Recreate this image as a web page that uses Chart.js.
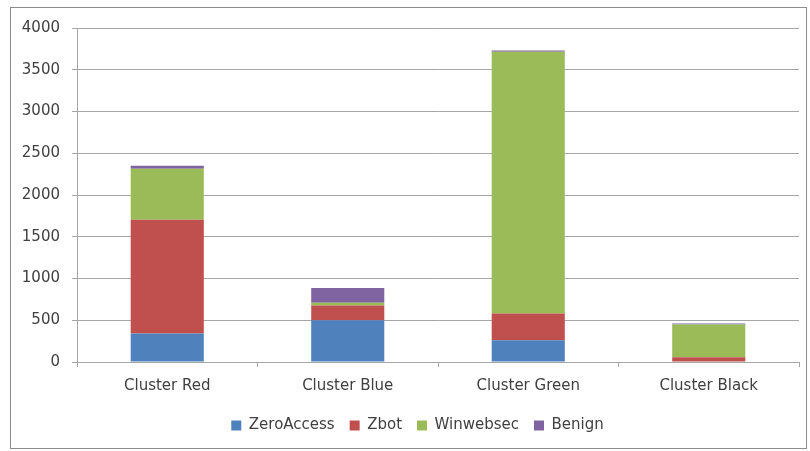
<!DOCTYPE html>
<html>
<head>
<meta charset="utf-8">
<script src="https://cdn.jsdelivr.net/npm/chart.js@4/dist/chart.umd.min.js"></script>
<style>
    html, body { margin: 0; padding: 0; background: #fff; }
    #wrap { width: 810px; height: 451px; position: relative; }
</style>
</head>
<body>
<div id="wrap"><canvas id="chart" width="810" height="451"></canvas></div>
<script>
const clusters = ['Cluster Red', 'Cluster Blue', 'Cluster Green', 'Cluster Black'];
const zeroAccess = [340, 500, 260, 0];
const zbot = [1365, 176, 320, 56];
const winwebsec = [610, 33, 3135, 392];
const benign = [35, 176, 16, 12];

const textColor = '#404040';
const gridColor = '#a6a6a6';
const font = { family: 'DejaVu Sans', size: 15 };

// frame around the whole chart, like the spreadsheet chart box
const frame = {
    id: 'frame',
    beforeDraw(chart) {
        const ctx = chart.ctx;
        ctx.save();
        ctx.strokeStyle = '#8c8c8c';
        ctx.lineWidth = 1;
        ctx.strokeRect(10.5, 7.5, 796, 441);
        ctx.restore();
    },
    // legend sits a bit right of the canvas centre in the original
    afterLayout(chart) {
        chart.legend.left += 18;
        chart.legend.right += 18;
    },
};

function series(label, data, color) {
    return {
        label: label,
        data: data,
        backgroundColor: color,
        borderWidth: 0,
        barPercentage: 0.405,
        categoryPercentage: 1,
    };
}

new Chart('chart', {
    type: 'bar',
    data: {
        labels: clusters,
        datasets: [
            series('ZeroAccess', zeroAccess, '#4f81bd'),
            series('Zbot', zbot, '#c0504d'),
            series('Winwebsec', winwebsec, '#9bbb59'),
            series('Benign', benign, '#8064a2'),
        ],
    },
    options: {
        responsive: false,
        animation: false,
        layout: { padding: { left: 0, right: 11, top: 28, bottom: 8 } },
        plugins: {
            tooltip: { enabled: false },
            legend: {
                position: 'bottom',
                labels: {
                    color: textColor,
                    font: font,
                    boxWidth: 10,
                    boxHeight: 10,
                    padding: 15,
                },
            },
        },
        scales: {
            x: {
                stacked: true,
                afterFit: (scale) => { scale.height = 41; },
                grid: {
                    drawOnChartArea: false,
                    color: gridColor,
                    tickLength: 5,
                },
                border: { color: gridColor },
                ticks: { color: textColor, font: font, padding: 10 },
            },
            y: {
                stacked: true,
                min: 0,
                max: 4000,
                afterFit: (scale) => { scale.width = 77; },
                grid: { color: gridColor, tickLength: 5 },
                border: { color: gridColor },
                ticks: {
                    color: textColor,
                    font: font,
                    stepSize: 500,
                    padding: 12,
                    callback: (v) => String(v),
                },
            },
        },
    },
    plugins: [frame],
});
</script>
</body>
</html>
